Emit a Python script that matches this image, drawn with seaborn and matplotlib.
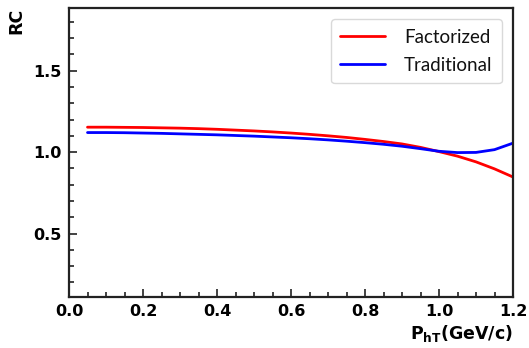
import numpy as np
import pandas as pd
import matplotlib
matplotlib.use("Agg")
import matplotlib.pyplot as plt
import seaborn as sns
from matplotlib.ticker import MultipleLocator

x = [0.05, 0.10, 0.15, 0.20, 0.25, 0.30, 0.35, 0.40, 0.45, 0.50, 0.55, 0.60,
     0.65, 0.70, 0.75, 0.80, 0.85, 0.90, 0.95, 1.00, 1.05, 1.10, 1.15, 1.20]
factorized = [1.153, 1.153, 1.152, 1.151, 1.149, 1.147, 1.144, 1.140, 1.135, 1.130, 1.124, 1.117,
              1.109, 1.100, 1.090, 1.078, 1.065, 1.050, 1.029, 1.003, 0.975, 0.940, 0.897, 0.847]
traditional = [1.120, 1.120, 1.119, 1.117, 1.115, 1.112, 1.109, 1.106, 1.102, 1.098, 1.093, 1.088,
               1.082, 1.075, 1.067, 1.058, 1.048, 1.036, 1.021, 1.005, 0.997, 0.998, 1.015, 1.055]

df = pd.DataFrame({
    "x": x * 2,
    "RC": factorized + traditional,
    "model": ["Factorized"] * len(x) + ["Traditional"] * len(x),
})

sns.set_style("ticks")
plt.rcParams["font.family"] = ["DejaVu Sans"]
plt.rcParams["mathtext.fontset"] = "dejavusans"
for k in ["text.color", "axes.labelcolor", "xtick.color", "ytick.color", "axes.edgecolor"]:
    plt.rcParams[k] = "black"

fig = plt.figure(figsize=(5.29, 3.48), dpi=100)
ax = fig.add_axes([69 / 529, 1 - 297 / 348, (513 - 69) / 529, (297 - 8) / 348])

sns.lineplot(data=df, x="x", y="RC", hue="model",
             palette={"Factorized": "#ff0000", "Traditional": "#0000ff"},
             linewidth=2, ax=ax)

ax.set_xlim(0.0, 1.2)
ax.set_ylim(0.11, 1.885)
ax.xaxis.set_major_locator(MultipleLocator(0.2))
ax.xaxis.set_minor_locator(MultipleLocator(0.05))
ax.yaxis.set_major_locator(MultipleLocator(0.5))
ax.yaxis.set_minor_locator(MultipleLocator(0.1))
ax.tick_params(which="both", direction="in", top=False, right=False, width=1.2,
               color="#222222", labelcolor="black")
ax.tick_params(which="major", length=6, labelsize=11.5, pad=5)
ax.tick_params(which="minor", length=3.5)
for lab in ax.get_xticklabels() + ax.get_yticklabels():
    lab.set_fontweight("bold")
for sp in ax.spines.values():
    sp.set_linewidth(1.6)
    sp.set_color("#222222")

ax.set_xlabel(r"$\mathbf{P_{hT}(GeV/c)}$", fontsize=12.5, loc="right", labelpad=3,
              color="black")
ax.set_ylabel("RC", fontsize=12.5, fontweight="bold", loc="top", labelpad=6,
              color="black")

leg = ax.legend(loc="upper right", handlelength=2.4, frameon=True,
                fancybox=True, borderpad=0.5, labelspacing=0.6, handletextpad=1.0,
                borderaxespad=0.6,
                prop={"family": ["Lato", "DejaVu Sans"], "size": 13.5})
leg.get_frame().set_edgecolor("#d0d0d0")
for t in leg.get_texts():
    t.set_color("#111111")
leg.set_title(None)

fig.savefig("out.png", dpi=100)
